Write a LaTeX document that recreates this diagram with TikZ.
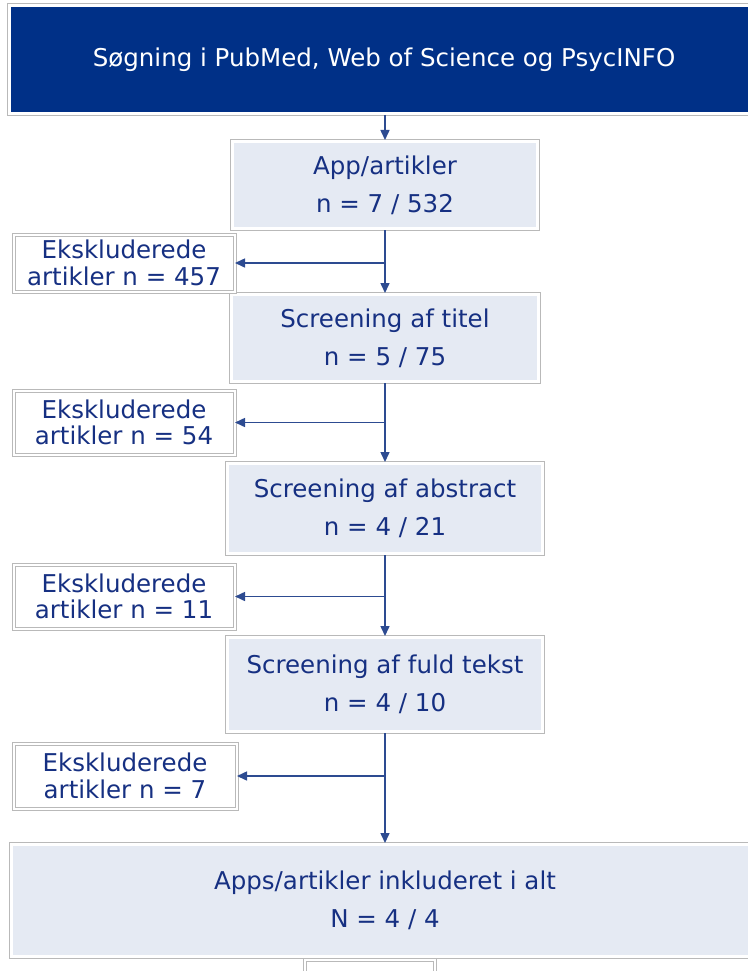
\documentclass[tikz,border=0pt]{standalone}
\usepackage{fontspec}
\setmainfont{DejaVu Sans}
\usetikzlibrary{arrows.meta}
\definecolor{topblue}{RGB}{0,48,135}
\definecolor{boxfill}{RGB}{229,234,243}
\definecolor{textblue}{RGB}{22,48,130}
\definecolor{lineblue}{RGB}{45,75,145}
\definecolor{framegray}{RGB}{185,185,185}
\begin{document}
\begin{tikzpicture}[x=1pt,y=-1pt,>={Triangle[length=10pt,width=9pt]}]
	\tikzset{box/.style={preaction={draw=framegray,line width=5pt},draw=white,line width=3pt,fill=boxfill,text=textblue,align=center,inner sep=0pt,font=\fontsize{24.5}{38}\selectfont},
		headbox/.style={box,fill=topblue,text=white},
		exclbox/.style={draw=framegray,double=white,double distance=2pt,line width=1pt,fill=white,text=textblue,align=center,inner sep=0pt,font=\fontsize{24.5}{26.5}\selectfont},
		flow/.style={draw=lineblue,line width=1.5pt}}
	\def\midx{385}
	\useasboundingbox (0,0) rectangle (747,971);
	% main column
	\node[headbox,minimum width=749pt,minimum height=108pt] (search) at (384,59.5) {Søgning i PubMed, Web of Science og PsycINFO};
	\node[box,minimum width=305pt,minimum height=87pt] (apps) at (\midx,185) {App/artikler\\n = 7 / 532};
	\node[box,minimum width=307pt,minimum height=87pt] (title) at (\midx,338) {Screening af titel\\n = 5 / 75};
	\node[box,minimum width=315pt,minimum height=90pt] (abstract) at (\midx,508.5) {Screening af abstract\\n = 4 / 21};
	\node[box,minimum width=315pt,minimum height=94pt] (fulltext) at (\midx,684.5) {Screening af fuld tekst\\n = 4 / 10};
	\node[box,minimum width=747pt,minimum height=112pt] (final) at (\midx,900.5) {Apps/artikler inkluderet i alt\\N = 4 / 4};
	\node[exclbox,minimum width=130pt,minimum height=50pt] (next) at (369.5,985) {};
	% excluded
	\node[exclbox,minimum width=221pt,minimum height=57pt] (excl1) at (124,263) {Ekskluderede\\artikler n = 457};
	\node[exclbox,minimum width=221pt,minimum height=64pt] (excl2) at (124,422.5) {Ekskluderede\\artikler n = 54};
	\node[exclbox,minimum width=221pt,minimum height=64pt] (excl3) at (124,596.5) {Ekskluderede\\artikler n = 11};
	\node[exclbox,minimum width=223pt,minimum height=65pt] (excl4) at (125,776) {Ekskluderede\\artikler n = 7};
	% connectors
	\draw[flow,->] (apps.north |- search.south) -- (apps.north);
	\foreach \a/\e/\b in {apps/excl1/title,title/excl2/abstract,abstract/excl3/fulltext,fulltext/excl4/final}{
		\coordinate (j) at (\a.south |- \e.east);
		\draw[flow] (\a.south) -- (j);
		\draw[flow,->] (j) -- (\e.east);
		\draw[flow,->] (j) -- (\b.north);
	}
\end{tikzpicture}
\end{document}
